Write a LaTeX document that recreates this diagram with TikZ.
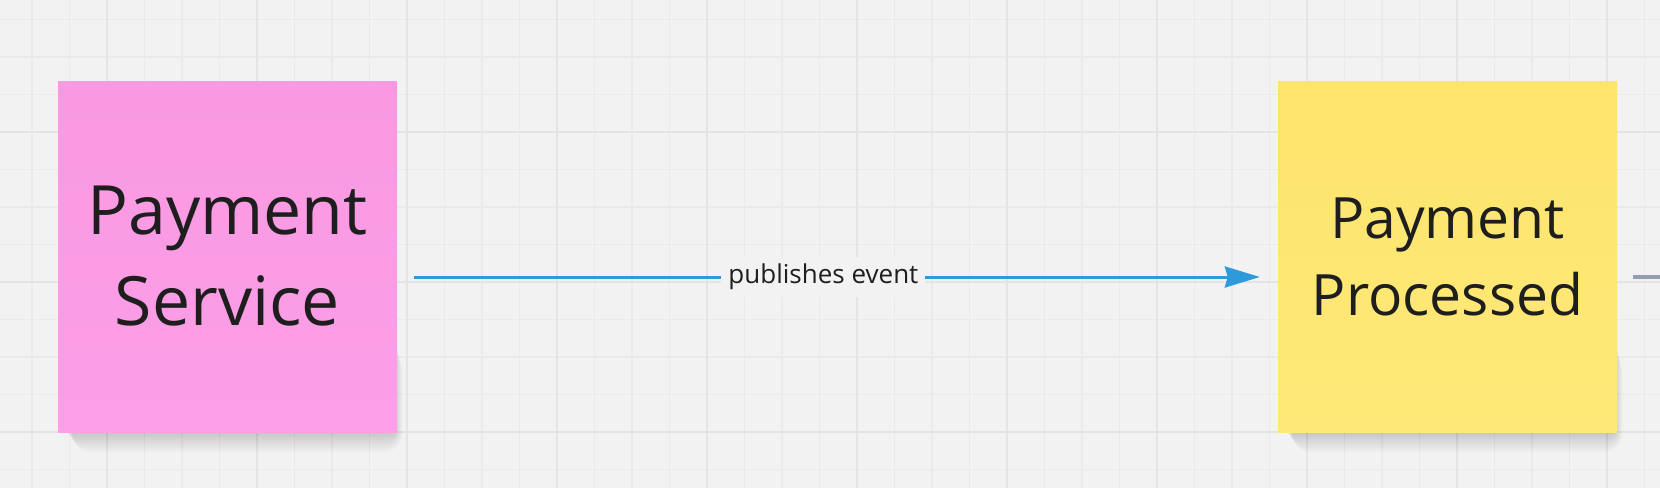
\documentclass[tikz,border=0pt]{standalone}
\usepackage{fontspec}
\setmainfont{Open Sans}
\usepackage{tikz}
\usetikzlibrary{arrows.meta}

\definecolor{boardbg}{RGB}{242,242,242}
\definecolor{minorgrid}{RGB}{234,234,234}
\definecolor{majorgrid}{RGB}{228,228,228}
\definecolor{stickypink}{RGB}{248,153,226}
\definecolor{stickypinklow}{RGB}{253,158,232}
\definecolor{stickyyellow}{RGB}{253,228,108}
\definecolor{stickyyellowlow}{RGB}{254,233,120}
\definecolor{flowblue}{RGB}{45,154,220}
\definecolor{linegray}{RGB}{150,157,174}
\definecolor{inktext}{RGB}{30,30,30}

\begin{document}
\begin{tikzpicture}[x=1pt, y=-1pt,
  sticky/.style={minimum width=339pt, minimum height=351pt, inner sep=0pt,
    align=center, text=inktext},
  softshadow/.style={fill=black, fill opacity=0.012},
  flow/.style={flowblue, line width=3pt, -{Stealth[length=35pt, width=21pt, inset=3pt]}},
  edgelabel/.style={fill=boardbg, text=inktext, font=\fontsize{26}{30}\selectfont, inner sep=7pt}]
  \useasboundingbox (0,0) rectangle (1660,488);
  \clip (0,0) rectangle (1660,488);
  \fill[boardbg] (0,0) rectangle (1660,488);
  % grid
  \foreach \i in {0,...,44}
    \draw[minorgrid, line width=1.5pt] ({32+37.5*\i},0) -- ({32+37.5*\i},488);
  \foreach \j in {0,...,12}
    \draw[minorgrid, line width=1.5pt] (0,{19.5+37.5*\j}) -- (1660,{19.5+37.5*\j});
  \foreach \i in {0,...,10}
    \draw[majorgrid, line width=2pt] ({107+150*\i},0) -- ({107+150*\i},488);
  \foreach \j in {0,...,2}
    \draw[majorgrid, line width=2pt] (0,{132+150*\j}) -- (1660,{132+150*\j});

  % shadows under the stickies
  \foreach \x in {58,1278}
    \foreach \k in {1,...,16}
      \fill[softshadow, rounded corners={1.2*\k}] ({\x+8+0.4*\k},{330+1.5*\k}) rectangle ({\x+335+0.6*\k},{430+1.4*\k});

  \node[sticky, top color=stickypink, bottom color=stickypinklow,
    font=\fontsize{68}{91}\selectfont] (service) at (227.5,256.5) {Payment\\Service};
  \node[sticky, top color=stickyyellow, bottom color=stickyyellowlow,
    font=\fontsize{57}{77}\selectfont] (processed) at (1447.5,256.5) {Payment\\Processed};

  \coordinate (offright) at (1700,277);
  \draw[flow, shorten <=17pt, shorten >=18pt] ([yshift=-20.5pt]service.east)
    -- node[edgelabel, pos=0.484] {publishes event} ([yshift=-20.5pt]processed.west);
  \draw[linegray, line width=4pt, shorten <=16pt] ([yshift=-20.5pt]processed.east) -- (offright);
\end{tikzpicture}
\end{document}
